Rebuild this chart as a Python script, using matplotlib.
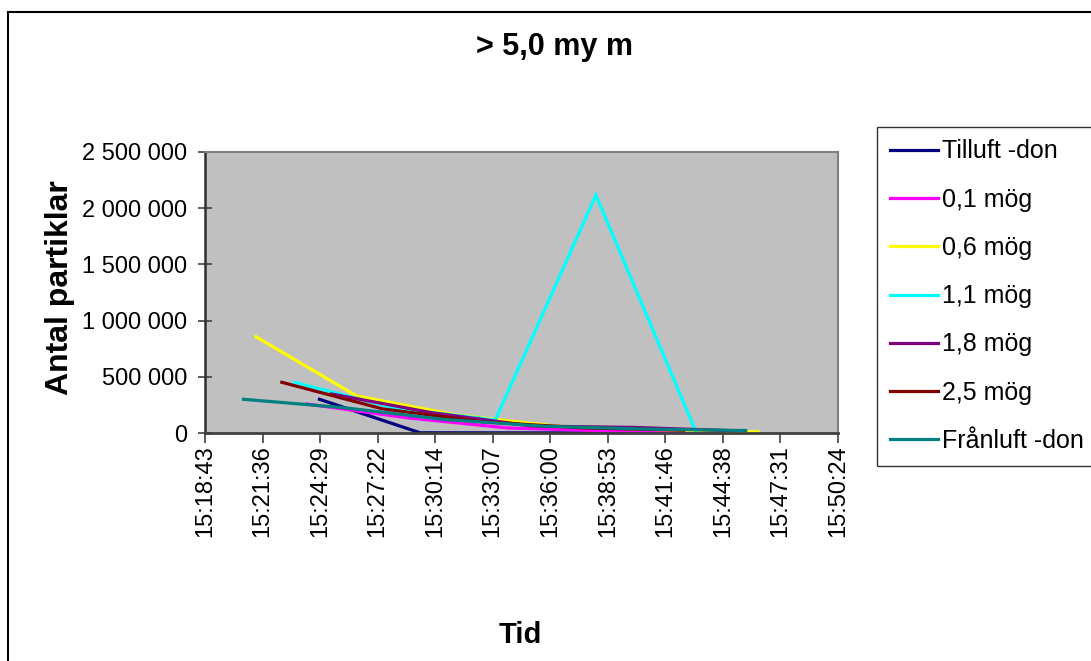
import matplotlib
matplotlib.use("Agg")
import matplotlib.pyplot as plt
from matplotlib.lines import Line2D
from matplotlib.ticker import FixedLocator, FuncFormatter

plt.rcParams['font.family'] = ['Liberation Sans', 'DejaVu Sans']

# Measurement series: sample times (hh:mm:ss) and particle counts (> 5,0 µm)
series_names = ["Tilluft -don", "0,1 mög", "0,6 mög", "1,1 mög",
                "1,8 mög", "2,5 mög", "Frånluft -don"]
series_colors = ["#000080", "#FF00FF", "#FFFF00", "#00FFFF",
                 "#800080", "#800000", "#008080"]

tilluft_t = ["15:24:27", "15:29:29", "15:34:30", "15:39:32", "15:44:33"]
tilluft_v = [300000, 2000, 1000, 1000, 1000]

mog01_t = ["15:23:49", "15:28:51", "15:33:52", "15:38:54", "15:43:55"]
mog01_v = [258000, 135000, 45000, 18000, 8000]

mog06_t = ["15:21:16", "15:26:18", "15:31:19", "15:36:21", "15:41:22", "15:46:24"]
mog06_v = [857000, 330000, 160000, 60000, 30000, 10000]

mog11_t = ["15:23:12", "15:28:14", "15:33:15", "15:38:17", "15:43:18"]
mog11_v = [451000, 220000, 116000, 2117000, 8000]

mog18_t = ["15:25:03", "15:30:05", "15:35:06", "15:40:08", "15:45:09"]
mog18_v = [347000, 180000, 62000, 50000, 20000]

mog25_t = ["15:22:34", "15:27:36", "15:32:37", "15:37:39", "15:42:40"]
mog25_v = [451000, 215000, 100000, 45000, 25000]

franluft_t = ["15:20:39", "15:25:41", "15:30:42", "15:35:44", "15:40:45", "15:45:47"]
franluft_v = [300000, 225000, 120000, 60000, 35000, 22000]

x_tick_labels = ["15:18:43", "15:21:36", "15:24:29", "15:27:22", "15:30:14", "15:33:07",
                 "15:36:00", "15:38:53", "15:41:46", "15:44:38", "15:47:31", "15:50:24"]
y_ticks = [0, 500000, 1000000, 1500000, 2000000, 2500000]

# Axis runs from day fraction 0.638 to 0.660 in steps of 0.002
x_min_day, x_max_day, x_step_day = 0.638, 0.660, 0.002


def to_sec(s):
    h, m, sec = (int(p) for p in s.split(":"))
    return h * 3600 + m * 60 + sec


all_times = [tilluft_t, mog01_t, mog06_t, mog11_t, mog18_t, mog25_t, franluft_t]
all_values = [tilluft_v, mog01_v, mog06_v, mog11_v, mog18_v, mog25_v, franluft_v]

W, H = 1091, 661
fig = plt.figure(figsize=(W / 100, H / 100), dpi=100)
fig.patch.set_facecolor("white")

# Outer chart frame (left and top edges)
for xs, ys in [([8, 8], [12, H + 5]), ([8, W + 5], [12, 12])]:
    fig.add_artist(Line2D([x / W for x in xs], [1 - y / H for y in ys],
                          transform=fig.transFigure, color="black", lw=1.5))

px0, px1, py0, py1 = 205, 838, 152, 433
ax = fig.add_axes([px0 / W, 1 - py1 / H, (px1 - px0) / W, (py1 - py0) / H])
ax.set_facecolor("#C0C0C0")

for name, color, ts, vs in zip(series_names, series_colors, all_times, all_values):
    ax.plot([to_sec(t) for t in ts], vs, color=color, lw=2.3, label=name,
            solid_joinstyle="miter")

x_lo = x_min_day * 86400
x_hi = x_max_day * 86400
n_ticks = len(x_tick_labels)
ax.set_xlim(x_lo, x_hi)
ax.set_ylim(0, 2500000)
ax.xaxis.set_major_locator(FixedLocator([x_lo + i * x_step_day * 86400 for i in range(n_ticks)]))
ax.set_xticklabels(x_tick_labels, rotation=90, fontsize=17)
ax.yaxis.set_major_locator(FixedLocator(y_ticks))
ax.yaxis.set_major_formatter(FuncFormatter(lambda v, p: f"{int(v):,}".replace(",", " ")))
for lab in ax.get_yticklabels():
    lab.set_fontsize(17)

ax.tick_params(axis="x", direction="out", length=7, width=1.2, color="#404040", pad=2)
ax.tick_params(axis="y", direction="inout", length=10, width=1.2, color="#404040", pad=8)

for side in ["top", "right"]:
    ax.spines[side].set_color("#808080")
    ax.spines[side].set_linewidth(1.5)
ax.spines["left"].set_color("#303030")
ax.spines["left"].set_linewidth(1.8)
ax.spines["bottom"].set_color("#404040")
ax.spines["bottom"].set_linewidth(2)

fig.text(555 / W, 1 - 47 / H, "> 5,0 my m", ha="center", va="center",
         fontsize=22, fontweight="bold")
fig.text(520 / W, 1 - 635 / H, "Tid", ha="center", va="center",
         fontsize=21, fontweight="bold")
fig.text(60 / W, 1 - 288 / H, "Antal partiklar", ha="center", va="center",
         rotation=90, fontsize=23, fontweight="bold")

leg = fig.legend(loc="upper left", bbox_to_anchor=(877 / W, 1 - 127 / H),
                 fontsize=18, frameon=True, fancybox=False, edgecolor="black",
                 handlelength=1.95, handletextpad=0.15, labelspacing=0.97,
                 borderpad=0.5, borderaxespad=0.0)
leg.get_frame().set_linewidth(1.0)
for ln in leg.get_lines():
    ln.set_linewidth(2.3)

fig.savefig("out.png", dpi=100)
